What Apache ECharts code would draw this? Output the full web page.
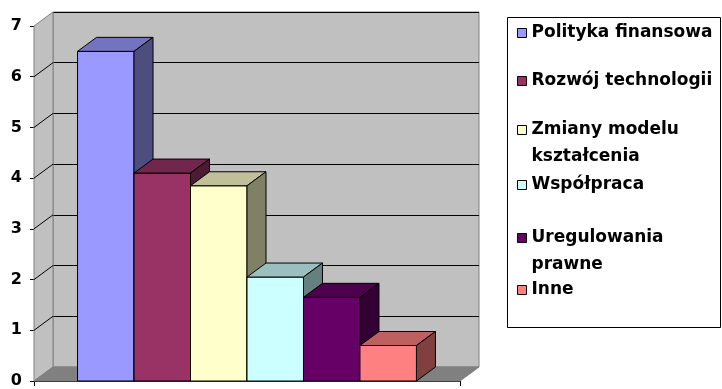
<!DOCTYPE html>
<html>
<head>
<meta charset="utf-8">
<script src="https://cdn.jsdelivr.net/npm/echarts@6/dist/echarts.min.js"></script>
<style>
  html, body { margin: 0; padding: 0; background: #fff; }
  #chart { width: 722px; height: 389px; }
</style>
</head>
<body>
<div id="chart"></div>
<script>
// dane wykresu
const seriesNames = [
  'Polityka finansowa',
  'Rozwój technologii',
  'Zmiany modelu\nkształcenia',
  'Współpraca',
  'Uregulowania\nprawne',
  'Inne'
];
const seriesValues = [6.5, 4.1, 3.85, 2.05, 1.65, 0.7];
const groupLabels = [''];
const yTicks = [0, 1, 2, 3, 4, 5, 6, 7];

// kolory (paleta Excela)
const seriesColors = ['#9999ff', '#993366', '#ffffcc', '#ccffff', '#660066', '#ff8080'];

const FONT = 'DejaVu Sans';
const DX = 19;   // głębokość 3D w poziomie
const DY = -14;  // głębokość 3D w pionie
const BAR_SHARE = 0.1326; // szerokość słupka jako część pasma kategorii

function shade(hex, k) {
  const n = parseInt(hex.slice(1), 16);
  const r = Math.round(((n >> 16) & 255) * k);
  const g = Math.round(((n >> 8) & 255) * k);
  const b = Math.round((n & 255) * k);
  return 'rgb(' + r + ',' + g + ',' + b + ')';
}

function barRenderer(idx) {
  return function (params, api) {
    const base = api.coord([api.value(0), 0]);
    const top = api.coord([api.value(0), api.value(1)]);
    const band = api.size([1, 0])[0];
    const w = band * BAR_SHARE;
    const x0 = base[0] - w * seriesNames.length / 2 + idx * w;
    const x1 = x0 + w;
    const c = seriesColors[idx];
    const edge = { stroke: '#000', lineWidth: 1 };
    return {
      type: 'group',
      children: [
        {
          type: 'rect',
          shape: { x: x0, y: top[1], width: w, height: base[1] - top[1] },
          style: Object.assign({ fill: c }, edge)
        },
        {
          type: 'polygon',
          shape: { points: [[x0, top[1]], [x0 + DX, top[1] + DY], [x1 + DX, top[1] + DY], [x1, top[1]]] },
          style: Object.assign({ fill: shade(c, 0.75) }, edge)
        },
        {
          type: 'polygon',
          shape: { points: [[x1, top[1]], [x1 + DX, top[1] + DY], [x1 + DX, base[1] + DY], [x1, base[1]]] },
          style: Object.assign({ fill: shade(c, 0.5) }, edge)
        }
      ]
    };
  };
}

// lewa ściana, podłoga i skośne linie siatki
function wallRenderer(params, api) {
  const band = api.size([1, 0])[0];
  const c = api.coord([0, 0]);
  const left = c[0] - band / 2;
  const right = c[0] + band / 2;
  const y0 = c[1];
  const yTop = api.coord([0, yTicks[yTicks.length - 1]])[1];
  const children = [
    {
      type: 'polygon',
      shape: { points: [[left, y0], [left, yTop], [left + DX, yTop + DY], [left + DX, y0 + DY]] },
      style: { fill: '#c0c0c0', stroke: '#808080', lineWidth: 1 }
    },
    {
      type: 'polygon',
      shape: { points: [[left, y0], [left + DX, y0 + DY], [right + DX, y0 + DY], [right, y0]] },
      style: { fill: '#808080', stroke: '#808080', lineWidth: 1 }
    }
  ];
  for (let i = 1; i < yTicks.length - 1; i++) {
    const y = api.coord([0, yTicks[i]])[1];
    children.push({
      type: 'line',
      shape: { x1: left, y1: y, x2: left + DX, y2: y + DY },
      style: { stroke: '#000', lineWidth: 1 }
    });
  }
  return { type: 'group', children: children };
}

const legendCenters = [33, 81, 130, 185, 238, 290];

const series = [{
  type: 'custom',
  name: '_walls',
  xAxisIndex: 0,
  yAxisIndex: 0,
  z: 1,
  silent: true,
  renderItem: wallRenderer,
  data: [[0, 0]]
}];
for (let i = 0; i < seriesNames.length; i++) {
  series.push({
    type: 'custom',
    name: seriesNames[i],
    xAxisIndex: 0,
    yAxisIndex: 0,
    z: 2 + i,
    itemStyle: { color: seriesColors[i] },
    renderItem: barRenderer(i),
    data: [[0, seriesValues[i]]]
  });
}

// każda pozycja legendy osobno, żeby ustawić odstępy jak w oryginale
const legends = seriesNames.map(function (name, i) {
  const twoLine = name.indexOf('\n') >= 0;
  return {
    data: [name],
    left: 517,
    top: twoLine ? legendCenters[i] - 40.5 : legendCenters[i] - 13.5,
    padding: 0,
    icon: 'rect',
    itemWidth: 9,
    itemHeight: 9,
    selectedMode: false,
    itemStyle: { borderColor: '#000', borderWidth: 1 },
    // pusta linia na początku: pierwsza linia tekstu wypada na wysokości ikony
    formatter: function (n) { return twoLine ? '\n' + n : n; },
    textStyle: {
      fontFamily: FONT,
      fontWeight: 'bold',
      fontSize: 17,
      color: '#000',
      lineHeight: 27
    }
  };
});

const chart = echarts.init(document.getElementById('chart'));
chart.setOption({
  animation: false,
  backgroundColor: '#fff',
  graphic: [{
    type: 'rect',
    shape: { x: 507.5, y: 17.5, width: 213, height: 310 },
    style: { fill: '#fff', stroke: '#000', lineWidth: 1 },
    z: -1
  }],
  legend: legends,
  grid: [
    { left: 34, top: 26, width: 426, height: 355 },
    {
      left: 53, top: 12, width: 426, height: 355,
      show: true, backgroundColor: '#c0c0c0', borderColor: '#808080', borderWidth: 1
    }
  ],
  xAxis: [
    {
      type: 'category',
      gridIndex: 0,
      data: groupLabels,
      axisLine: { lineStyle: { color: '#000', width: 1 } },
      axisTick: { show: true, length: 5, lineStyle: { color: '#000' } },
      axisLabel: { show: false },
      splitLine: { show: false }
    },
    {
      type: 'category',
      gridIndex: 1,
      data: groupLabels,
      show: false
    }
  ],
  yAxis: [
    {
      type: 'value',
      gridIndex: 0,
      min: 0,
      max: 7,
      interval: 1,
      axisLine: { show: true, lineStyle: { color: '#000', width: 1 } },
      axisTick: { show: true, length: 4, lineStyle: { color: '#000' } },
      axisLabel: {
        margin: 12,
        fontFamily: FONT,
        fontWeight: 'bold',
        fontSize: 16,
        color: '#000',
        formatter: function (v) { return yTicks.indexOf(v) >= 0 ? String(v) : ''; }
      },
      splitLine: { show: false }
    },
    {
      type: 'value',
      gridIndex: 1,
      min: 0,
      max: 7,
      interval: 1,
      axisLine: { show: false },
      axisTick: { show: false },
      axisLabel: { show: false },
      splitLine: { show: true, lineStyle: { color: '#000', width: 1 } }
    }
  ],
  series: series
});
</script>
</body>
</html>
